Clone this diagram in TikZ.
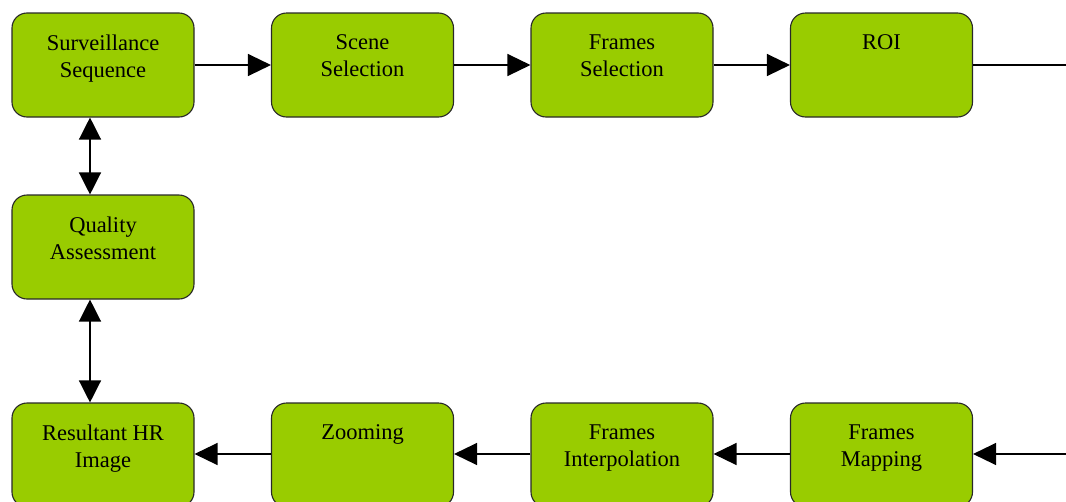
\documentclass[tikz,border=0pt]{standalone}
\usepackage{fontspec}
\setmainfont{Liberation Serif}
\usetikzlibrary{arrows.meta,positioning}
\definecolor{boxgreen}{RGB}{153,204,0}
\definecolor{edgegray}{RGB}{40,40,40}
\tikzset{
  stagebox/.style={draw=edgegray, line width=1.1pt, fill=boxgreen, rounded corners=15pt,
    minimum width=182pt, minimum height=104pt, inner sep=0pt},
  stagetext/.style={anchor=north, align=center, inner sep=0pt,
    font=\fontsize{22.5pt}{27pt}\selectfont, yshift=-22pt},
  flow/.style={line width=1.3pt, -{Triangle[length=23pt,width=22pt]}},
  twoway/.style={line width=1.3pt, {Triangle[length=22pt,width=22pt]}-{Triangle[length=22pt,width=22pt]}},
  plain/.style={line width=1.3pt}
}
\begin{document}
\begin{tikzpicture}[x=1pt,y=-1pt]
\useasboundingbox (0,0) rectangle (1066,501);
\begin{scope}
\clip (0,0) rectangle (1066,501);
% top row
\node[stagebox] (surv)  at (103,65) {};
\node[stagebox] (scene) at (362.5,65) {};
\node[stagebox] (fsel)  at (622,65) {};
\node[stagebox] (roi)   at (881.5,65) {};
% middle
\node[stagebox] (qual)  at (103,247) {};
% bottom row
\node[stagebox] (hr)    at (103,455) {};
\node[stagebox] (zoom)  at (362.5,455) {};
\node[stagebox] (finter) at (622,455) {};
\node[stagebox] (fmap)  at (881.5,455) {};

\node[stagetext] at (surv.north)   {Surveillance\\Sequence};
\node[stagetext] at (scene.north)  {Scene\\Selection};
\node[stagetext] at (fsel.north)   {Frames\\Selection};
\node[stagetext] at (roi.north)    {ROI};
\node[stagetext] at (qual.north)   {Quality\\Assessment};
\node[stagetext] at (hr.north)     {Resultant HR\\Image};
\node[stagetext] at (zoom.north)   {Zooming};
\node[stagetext] at (finter.north) {Frames\\Interpolation};
\node[stagetext] at (fmap.north)   {Frames\\Mapping};

\coordinate (outR) at (1066,65);
\coordinate (inR)  at (1066,454);

% forward flow along the top
\draw[flow] (surv.east) -- (scene.west);
\draw[flow] (scene.east) -- (fsel.west);
\draw[flow] (fsel.east) -- (roi.west);
\draw[plain] (roi.east) -- (outR);

% flow back along the bottom
\draw[flow] (inR) -- (inR -| fmap.east);
\draw[flow] (fmap.west |- inR) -- (inR -| finter.east);
\draw[flow] (finter.west |- inR) -- (inR -| zoom.east);
\draw[flow] (zoom.west |- inR) -- (inR -| hr.east);

% quality assessment links
\draw[twoway] ([xshift=-13pt]surv.south) -- ([xshift=-13pt]qual.north);
\draw[twoway] ([xshift=-13pt]qual.south) -- ([xshift=-13pt]hr.north);
\end{scope}
\end{tikzpicture}
\end{document}
